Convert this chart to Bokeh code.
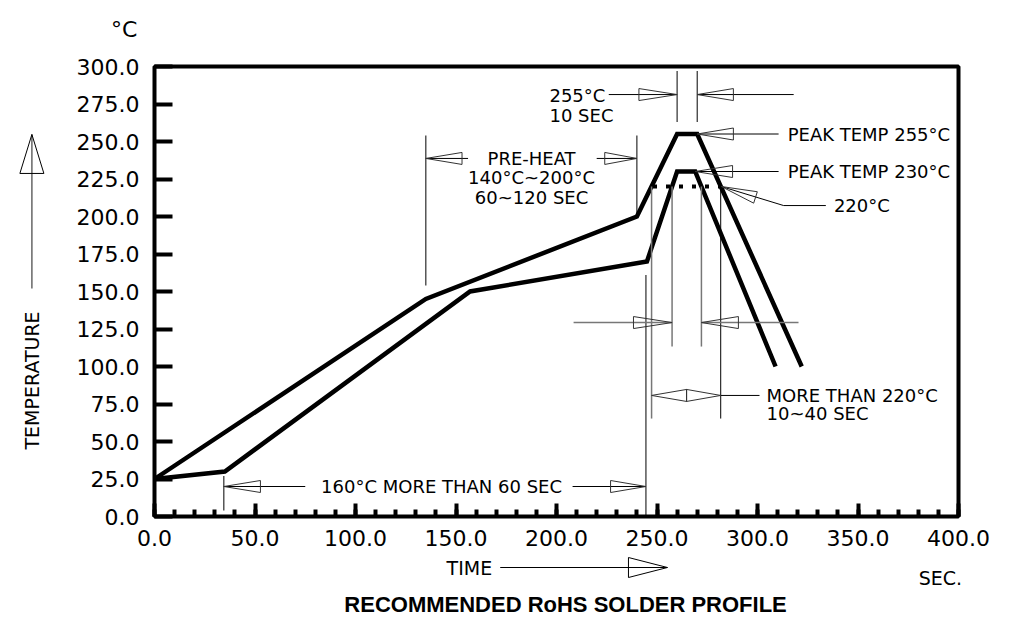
import math
from bokeh.plotting import figure
from bokeh.models import Range1d, FixedTicker, PrintfTickFormatter
from bokeh.core.properties import value
from bokeh.embed import file_html
from bokeh.resources import INLINE

# ---------------- data ----------------
upper_time = [0, 135, 240, 260, 270, 322]
upper_temp = [25, 145, 200, 255, 255, 100]
lower_time = [0, 35, 157, 245, 260, 269, 309]
lower_temp = [25, 30, 150, 170, 230, 230, 100]
x_ticks = [0, 50, 100, 150, 200, 250, 300, 350, 400]
x_minor = list(range(0, 401, 10))
y_ticks = [0, 25, 50, 75, 100, 125, 150, 175, 200, 225, 250, 275, 300]
liquidus = 220

W, H = 1022, 620
ML, MR, MT, MB = 154, 64, 66, 104
PX = (W - ML - MR) / 400.0   # px per second
PY = (H - MT - MB) / 300.0   # px per degree

FONT = "DejaVu Sans"

p = figure(width=W, height=H, output_backend="svg", toolbar_location=None,
           x_range=Range1d(0, 400), y_range=Range1d(0, 300),
           min_border_left=ML, min_border_right=MR, min_border_top=MT,
           min_border_bottom=MB)
p.grid.visible = False
p.outline_line_color = "black"
p.outline_line_width = 4

for ax in (p.xaxis[0], p.yaxis[0]):
    ax.axis_line_color = None
    ax.major_tick_out = 0
    ax.minor_tick_out = 0
    ax.major_tick_line_width = 4
    ax.minor_tick_line_width = 4
    ax.major_tick_line_color = "black"
    ax.minor_tick_line_color = "black"
    ax.formatter = PrintfTickFormatter(format="%.1f")
    ax.major_label_text_font = FONT
    ax.major_label_text_font_size = "22px"
    ax.major_label_text_color = "black"

p.xaxis.ticker = FixedTicker(ticks=x_ticks, minor_ticks=x_minor)
p.xaxis.major_tick_in = 13
p.xaxis.minor_tick_in = 7
p.xaxis.major_label_standoff = 13
p.yaxis.ticker = FixedTicker(ticks=y_ticks, minor_ticks=[])
p.yaxis.major_tick_in = 18
p.yaxis.major_label_standoff = 15

# ---------------- profile curves ----------------
p.line(upper_time, upper_temp, line_color="black", line_width=4.5, line_join="miter")
p.line(lower_time, lower_temp, line_color="black", line_width=4.5, line_join="miter")
p.line([248, 282], [liquidus, liquidus], line_color="black", line_width=4,
       line_dash="4 9")


def tri(tip, base, half_px=6.0):
    dx = (base[0] - tip[0]) * PX
    dy = (base[1] - tip[1]) * PY
    L = math.hypot(dx, dy)
    nx, ny = -dy / L * half_px, dx / L * half_px
    bx, by = base
    return ([tip[0], bx + nx / PX, bx - nx / PX, tip[0]],
            [tip[1], by + ny / PY, by - ny / PY, tip[1]])


# thin black leader lines
black = [
    ([135, 135], [154, 254]), ([240, 240], [202, 254]),
    ([135, 156], [238.7, 238.7]), ([220, 240], [238.7, 238.7]),
    ([260, 260], [263, 297]), ([270, 270], [263, 297]),
    ([226, 260], [281.3, 281.3]), ([270, 318], [281.3, 281.3]),
    ([270, 310.5], [255, 255]), ([269, 310.5], [230, 230]),
    ([282, 313, 334], [220, 207.3, 207.3]),
    ([244.5, 244.5], [0, 161]),
    ([34.5, 34.5], [4, 27]),
    ([34.5, 75], [20, 20]), ([208, 244.5], [20, 20]),
    ([264.7, 264.7], [76.7, 84.7]), ([281.7, 301], [80.7, 80.7]),
    ([281.7, 281.7], [220, 65.3]),
]
p.multi_line([b[0] for b in black], [b[1] for b in black],
             line_color="black", line_width=1)

gray = [
    ([247.3, 247.3], [220, 65.3]),
    ([257.5, 257.5], [220, 113.3]),
    ([272.1, 272.1], [220, 113.3]),
    ([208.5, 257.5], [129.3, 129.3]), ([272.1, 320.4], [129.3, 129.3]),
]
p.multi_line([g[0] for g in gray], [g[1] for g in gray],
             line_color="#777777", line_width=1.5)

tris = [
    ((135, 238.7), (153, 238.7)), ((240, 238.7), (224, 238.7)),
    ((260, 281.3), (241, 281.3)), ((270, 281.3), (288, 281.3)),
    ((270, 255), (288, 255)), ((269, 230), (287.6, 230)),
    ((282, 220), (299, 212.7)),
    ((257.5, 129.3), (238.3, 129.3)), ((272.1, 129.3), (290.5, 129.3)),
    ((247.3, 80.7), (264.7, 80.7)), ((281.7, 80.7), (264.7, 80.7)),
    ((34.5, 20), (52.7, 20)), ((244.5, 20), (226.9, 20)),
]
txs, tys = [], []
for t, b in tris:
    a, c = tri(t, b)
    txs.append(a)
    tys.append(c)
p.patches(txs, tys, fill_color=None, line_color="#333333", line_width=1)


def txt(x, y, s, align="left", size="18px", angle=0.0, style="normal",
        font=FONT, level="glyph"):
    p.text([x], [y], text=[s], text_font=value(font), text_font_size=value(size),
           text_align=align, text_baseline="middle", text_color="black",
           angle=angle, text_font_style=style, level=level)


# texts inside the frame
txt(187.6, 238.7, "PRE-HEAT", "center")
txt(187.6, 226.0, "140°C~200°C", "center")
txt(187.6, 212.7, "60~120 SEC", "center")
txt(196.5, 281.0, "255°C")
txt(196.5, 267.3, "10 SEC")
txt(315, 255, "PEAK TEMP 255°C")
txt(315, 230, "PEAK TEMP 230°C")
txt(338, 207.3, "220°C")
txt(304.5, 80.7, "MORE THAN 220°C")
txt(304.5, 68.7, "10~40 SEC")
txt(142.8, 20, "160°C MORE THAN 60 SEC", "center")

# ---------------- outside the frame (overlay level) ----------------
OV = "overlay"
txt(-8.5, 324.7, "°C", "right", size="22px", level=OV)
txt(-61, 90.7, "TEMPERATURE", "center", size="19px", angle=math.pi / 2, level=OV)
txt(168, -34, "TIME", "right", size="19px", level=OV)
txt(391, -40.7, "SEC.", "center", size="19px", level=OV)
txt(204.5, -58.7, "RECOMMENDED RoHS SOLDER PROFILE", "center", size="22px",
    style="bold", font="Liberation Sans", level=OV)

p.line([-61, -61], [152, 254.7], line_color="#666666", line_width=1.5, level=OV)
p.line([172, 255.2], [-34, -34], line_color="black", line_width=1, level=OV)
ax_, ay_ = tri((-61, 254.7), (-61, 228.7), 12)
bx_, by_ = tri((255.2, -34), (235.8, -34), 10)
p.line(ax_, ay_, line_color="black", line_width=1, level=OV)
p.line(bx_, by_, line_color="black", line_width=1, level=OV)

open("out.html", "w").write(file_html(p, INLINE))
